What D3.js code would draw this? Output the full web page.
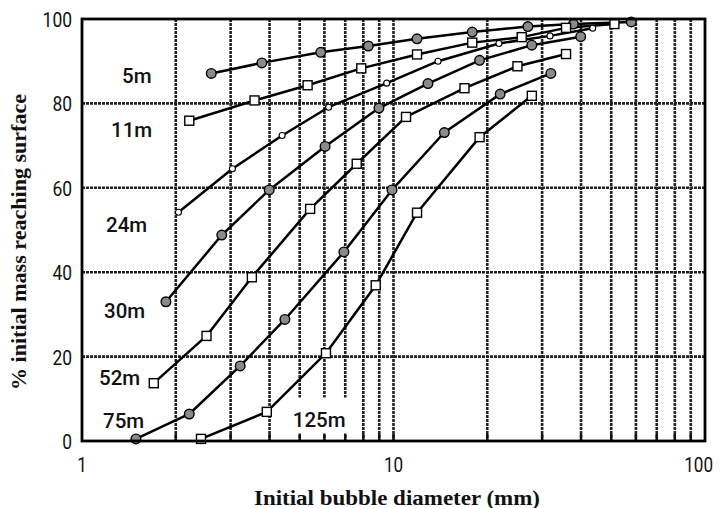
<!DOCTYPE html>
<html>
<head>
<meta charset="utf-8">
<script src="https://cdn.jsdelivr.net/npm/d3@7"></script>
<style>
  html, body { margin: 0; padding: 0; background: #fff; }
  svg { display: block; }
</style>
</head>
<body>
<div id="chart"></div>
<script>
// NOTE: data (x = bubble diameter in mm, y = % mass)
const depths = ['5m', '11m', '24m', '30m', '52m', '75m', '125m'];
const markers = ['dot', 'square', 'small', 'dot', 'square', 'dot', 'square'];
const series = [
  [[2.6, 87.1], [3.78, 89.6], [5.84, 92.1], [8.3, 93.6], [11.9, 95.3], [17.9, 96.9], [27, 98.2], [37.8, 98.8], [58, 99.3]],
  [[2.21, 75.9], [3.58, 80.7], [5.3, 84.3], [7.88, 88.3], [11.9, 91.6], [17.9, 94.4], [25.8, 95.7], [35.8, 97.9], [51.2, 98.8]],
  [[2.04, 54.2], [3.04, 64.5], [4.39, 72.4], [6.19, 79.1], [9.51, 84.8], [13.9, 90.0], [21.8, 94.2], [31.8, 96.0], [43.6, 97.8]],
  [[1.86, 33.0], [2.81, 48.8], [3.99, 59.5], [6.03, 69.8], [8.98, 78.9], [12.9, 84.7], [18.9, 90.2], [27.8, 93.8], [39.9, 95.8]],
  [[1.7, 13.7], [2.51, 24.9], [3.51, 38.8], [5.4, 55.0], [7.62, 65.7], [10.97, 76.8], [16.9, 83.6], [25.0, 88.8], [35.8, 91.7]],
  [[1.49, 0.5], [2.21, 6.4], [3.22, 17.8], [4.48, 28.8], [6.93, 44.8], [9.89, 59.5], [14.56, 73.1], [22.0, 82.2], [32.0, 87.1]],
  [[2.41, 0.5], [3.92, 6.9], [6.07, 20.8], [8.77, 36.9], [11.9, 54.1], [18.9, 72.0], [27.8, 81.8]],
];
// label anchor in data units (left x, baseline y)
const labelPos = [[1.344, 84.8], [1.239, 72.0], [1.194, 49.6], [1.177, 29.1], [1.134, 13.3], [1.168, 3.1], [4.75, 3.2]];
const xTicks = [1, 10, 100];
const yTicks = [0, 20, 40, 60, 80, 100];
const xGrid = [2, 3, 4, 5, 6, 7, 8, 9, 10, 20, 30, 40, 50, 60, 70, 80, 90];
const yGrid = [20, 40, 60, 80];

const margin = { top: 19, right: 15, bottom: 67, left: 82 };
const W = 720, H = 508;
const width = W - margin.left - margin.right;
const height = H - margin.top - margin.bottom;

const x = d3.scaleLog().domain([1, 100]).range([0, width]);
const y = d3.scaleLinear().domain([0, 100]).range([height, 0]);

const svg = d3.select('#chart').append('svg')
  .attr('width', W)
  .attr('height', H);
const g = svg.append('g')
  .attr('transform', 'translate(' + margin.left + ',' + margin.top + ')');

// grid (stippled look of the scan)
g.selectAll('.vgrid').data(xGrid).join('line')
  .attr('class', 'vgrid')
  .attr('x1', d => x(d)).attr('x2', d => x(d))
  .attr('y1', 0).attr('y2', height)
  .attr('stroke', '#222').attr('stroke-width', 2.6)
  .attr('stroke-dasharray', '3,1');
g.selectAll('.hgrid').data(yGrid).join('line')
  .attr('class', 'hgrid')
  .attr('x1', 0).attr('x2', width)
  .attr('y1', d => y(d)).attr('y2', d => y(d))
  .attr('stroke', '#222').attr('stroke-width', 2.6)
  .attr('stroke-dasharray', '3,1');

// short inward ticks on the bottom axis
g.selectAll('.btick').data(xGrid).join('line')
  .attr('class', 'btick')
  .attr('x1', d => x(d)).attr('x2', d => x(d))
  .attr('y1', height - 7).attr('y2', height)
  .attr('stroke', '#111').attr('stroke-width', 2.4);

// depth labels, with white box where they sit on grid lines
const labelFont = 'Roboto, "Liberation Sans", sans-serif';
const labels = g.selectAll('.depth').data(depths).join('g').attr('class', 'depth');
labels.filter((d, i) => i === 6).append('rect')
  .attr('x', x(labelPos[6][0]) - 8)
  .attr('y', y(labelPos[6][1]) - 30)
  .attr('width', 68)
  .attr('height', 36)
  .attr('fill', '#fff');
labels.append('text')
  .attr('x', (d, i) => x(labelPos[i][0]))
  .attr('y', (d, i) => y(labelPos[i][1]))
  .attr('font-family', labelFont)
  .attr('font-size', 20.5)
  .attr('font-weight', 500)
  .attr('fill', '#111')
  .text(d => d);

// curves
const line = d3.line().x(d => x(d[0])).y(d => y(d[1]));
g.selectAll('.curve').data(series).join('path')
  .attr('class', 'curve')
  .attr('d', line)
  .attr('fill', 'none')
  .attr('stroke', '#000')
  .attr('stroke-width', 2.5)
  .attr('stroke-linejoin', 'round');

series.forEach((pts, i) => {
  const m = markers[i];
  const grp = g.append('g').attr('class', 'markers');
  if (m === 'square') {
    grp.selectAll('rect').data(pts).join('rect')
      .attr('x', d => x(d[0]) - 4.5).attr('y', d => y(d[1]) - 4.5)
      .attr('width', 9).attr('height', 9)
      .attr('fill', '#fff').attr('stroke', '#000').attr('stroke-width', 1.4);
  } else {
    grp.selectAll('circle').data(pts).join('circle')
      .attr('cx', d => x(d[0])).attr('cy', d => y(d[1]))
      .attr('r', m === 'dot' ? 4.8 : 3)
      .attr('fill', m === 'dot' ? '#8a8a8a' : '#fff')
      .attr('stroke', '#000').attr('stroke-width', m === 'dot' ? 1.4 : 1.1);
  }
});

// frame
g.append('rect')
  .attr('x', 0).attr('y', 0)
  .attr('width', width).attr('height', height)
  .attr('fill', 'none').attr('stroke', '#000').attr('stroke-width', 2.8);

// tick labels (the scan uses a narrow gothic face)
const tickFont = 'Roboto, "Liberation Sans", sans-serif';
g.selectAll('.ylab').data(yTicks).join('text')
  .attr('class', 'ylab')
  .attr('x', -10)
  .attr('y', d => y(d) + 8)
  .attr('text-anchor', 'end')
  .attr('font-family', tickFont)
  .attr('font-size', 20)
  .attr('textLength', d => String(d).length * 9.8)
  .attr('lengthAdjust', 'spacingAndGlyphs')
  .attr('fill', '#111')
  .text(d => d);
g.selectAll('.xlab').data(xTicks).join('text')
  .attr('class', 'xlab')
  .attr('x', d => d === 100 ? x(d) + 8 : x(d))
  .attr('y', height + 31)
  .attr('text-anchor', d => d === 100 ? 'end' : 'middle')
  .attr('font-family', tickFont)
  .attr('font-size', 20)
  .attr('textLength', d => String(d).length * 9.6)
  .attr('lengthAdjust', 'spacingAndGlyphs')
  .attr('fill', '#111')
  .text(d => d);

// axis titles
svg.append('text')
  .attr('x', 397)
  .attr('y', 505)
  .attr('text-anchor', 'middle')
  .attr('font-family', '"Liberation Serif", "Times New Roman", serif')
  .attr('font-weight', 'bold')
  .attr('font-size', 20)
  .attr('textLength', 286)
  .attr('lengthAdjust', 'spacingAndGlyphs')
  .attr('fill', '#111')
  .text('Initial bubble diameter (mm)');
svg.append('text')
  .attr('transform', 'translate(26,242) rotate(-90)')
  .attr('text-anchor', 'middle')
  .attr('font-family', '"Liberation Serif", "Times New Roman", serif')
  .attr('font-weight', 'bold')
  .attr('font-size', 20)
  .attr('textLength', 296)
  .attr('lengthAdjust', 'spacingAndGlyphs')
  .attr('fill', '#111')
  .text('% initial mass reaching surface');
</script>
</body>
</html>
